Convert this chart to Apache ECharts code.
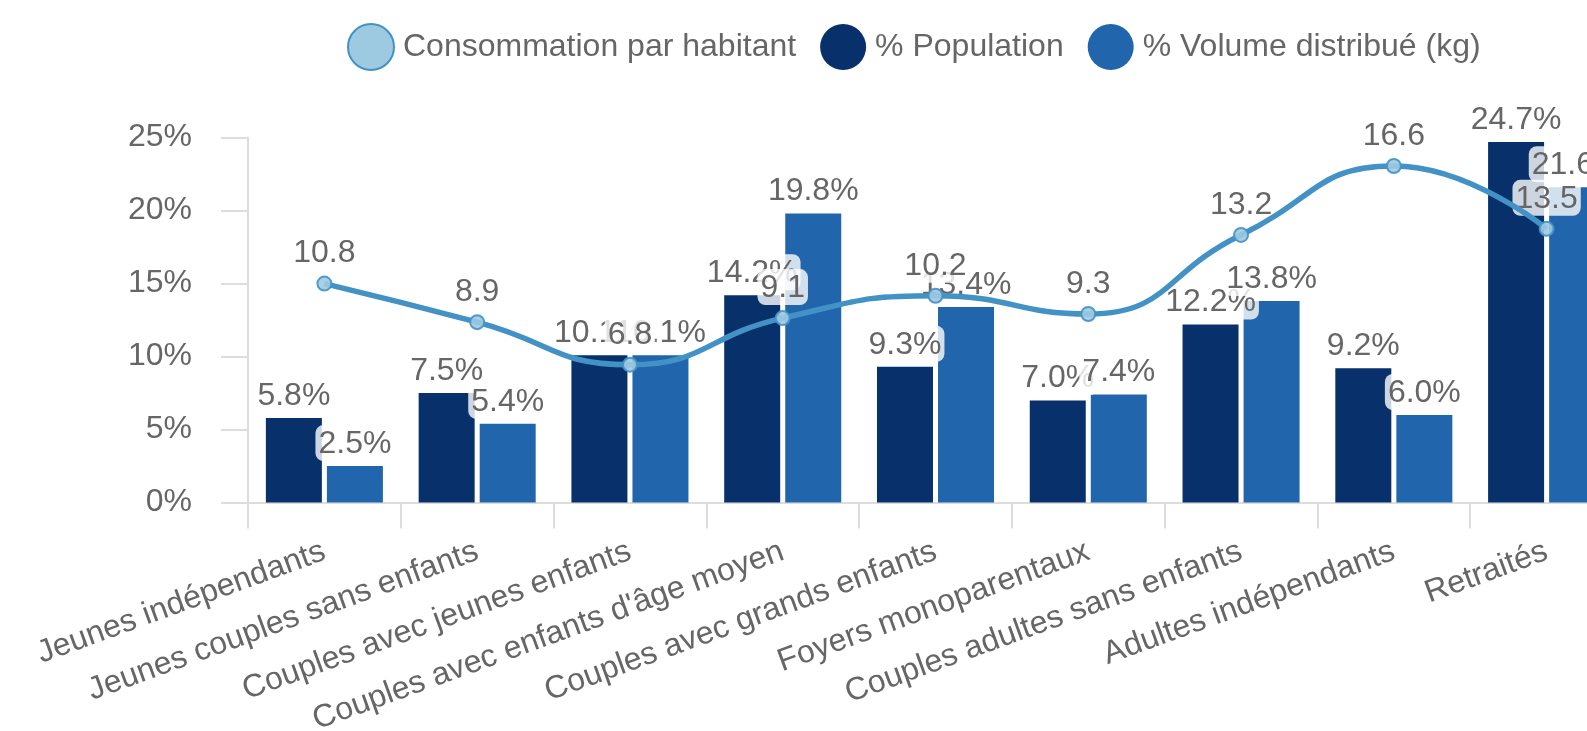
<!DOCTYPE html>
<html>
<head>
<meta charset="utf-8">
<script src="https://cdn.jsdelivr.net/npm/echarts@6/dist/echarts.min.js"></script>
<style>
  html, body { margin: 0; padding: 0; background: #ffffff; }
  /* The plot runs past the right edge of the frame, which clips it */
  #frame { position: relative; width: 1587px; height: 731px; overflow: hidden; }
  #chart { position: absolute; left: 0; top: 0; width: 1700px; height: 731px; }
</style>
</head>
<body>
<div id="frame"><div id="chart"></div></div>
<script>
// Household segments
const categories = [
  'Jeunes indépendants',
  'Jeunes couples sans enfants',
  'Couples avec jeunes enfants',
  "Couples avec enfants d'âge moyen",
  'Couples avec grands enfants',
  'Foyers monoparentaux',
  'Couples adultes sans enfants',
  'Adultes indépendants',
  'Retraités'
];

// Share of population (%)
const populationShare = [5.8, 7.5, 10.1, 14.2, 9.3, 7.0, 12.2, 9.2, 24.7];
// Share of distributed volume (%)
const volumeShare = [2.5, 5.4, 10.1, 19.8, 13.4, 7.4, 13.8, 6.0, 21.6];
// Consumption per inhabitant (kg)
const consumptionPerCapita = [10.8, 8.9, 6.8, 9.1, 10.2, 9.3, 13.2, 16.6, 13.5];

const yTicks = [0, 5, 10, 15, 20, 25];

const FONT = "'Liberation Sans', Arial, Helvetica, sans-serif";
const TEXT = '#666666';
const NAVY = '#08306b';
const BLUE = '#2166ac';
const LINE = '#4292c6';
const LINE_FILL = '#9ecae1';

const labelBox = {
  show: true,
  position: 'top',
  distance: 5,
  color: TEXT,
  fontFamily: FONT,
  fontSize: 32,
  backgroundColor: 'rgba(255,255,255,0.8)',
  borderRadius: 8,
  padding: [3, 3, 1, 3]
};

const chart = echarts.init(document.getElementById('chart'), null, { renderer: 'canvas', width: 1700, height: 731 });

chart.setOption({
  animation: false,
  textStyle: { fontFamily: FONT },
  legend: {
    left: 342,
    top: 18,
    icon: 'circle',
    itemWidth: 46,
    itemHeight: 46,
    itemGap: 24,
    textStyle: { color: TEXT, fontSize: 32, fontFamily: FONT, padding: [0, 0, 0, 4] },
    data: [
      { name: 'Consommation par habitant', itemStyle: { color: LINE_FILL, borderColor: LINE, borderWidth: 2 } },
      { name: '% Population', itemStyle: { color: NAVY } },
      { name: '% Volume distribué (kg)', itemStyle: { color: BLUE } }
    ]
  },
  grid: {
    left: 248,
    top: 137.6,
    width: 1375,
    height: 365,
    containLabel: false,
    outerBoundsMode: 'none'
  },
  xAxis: {
    type: 'category',
    data: categories,
    boundaryGap: true,
    axisLine: { lineStyle: { color: '#dddddd', width: 2 } },
    axisTick: { show: true, length: 26, lineStyle: { color: '#dddddd', width: 2 } },
    axisLabel: {
      interval: 0,
      rotate: 20,
      margin: 48,
      color: TEXT,
      fontSize: 32,
      fontFamily: FONT
    }
  },
  yAxis: [
    {
      type: 'value',
      min: yTicks[0],
      max: yTicks[yTicks.length - 1],
      interval: 5,
      axisLine: { show: true, lineStyle: { color: '#dddddd', width: 2 } },
      axisTick: { show: true, length: 27, lineStyle: { color: '#dddddd', width: 2 } },
      splitLine: { show: false },
      axisLabel: {
        margin: 56,
        color: TEXT,
        fontSize: 32,
        fontFamily: FONT,
        formatter: v => v + '%'
      }
    },
    {
      type: 'value',
      min: 0,
      max: 18,
      show: false,
      splitLine: { show: false }
    }
  ],
  series: [
    {
      // value labels of the consumption curve, kept under the bar labels
      name: 'Consommation par habitant',
      type: 'line',
      yAxisIndex: 1,
      smooth: true,
      z: 2,
      data: consumptionPerCapita,
      symbol: 'circle',
      symbolSize: 14,
      itemStyle: { color: 'rgba(0,0,0,0)', borderWidth: 0 },
      lineStyle: { width: 0, opacity: 0 },
      label: Object.assign({}, labelBox, {
        distance: 6,
        formatter: p => p.value.toFixed(1)
      }),
      tooltip: { show: false }
    },
    {
      name: 'Consommation par habitant',
      type: 'line',
      yAxisIndex: 1,
      smooth: true,
      z: 3,
      data: consumptionPerCapita,
      symbol: 'circle',
      symbolSize: 14,
      itemStyle: { color: LINE_FILL, borderColor: LINE, borderWidth: 2, opacity: 0.9 },
      lineStyle: { color: LINE, width: 5.5 },
      label: { show: false }
    },
    {
      name: '% Population',
      type: 'bar',
      z: 2,
      data: populationShare,
      barWidth: 56,
      barGap: '9%',
      itemStyle: { color: NAVY },
      label: Object.assign({}, labelBox, {
        formatter: p => p.value.toFixed(1) + '%'
      })
    },
    {
      name: '% Volume distribué (kg)',
      type: 'bar',
      z: 2,
      data: volumeShare,
      barWidth: 56,
      barGap: '9%',
      itemStyle: { color: BLUE },
      label: Object.assign({}, labelBox, {
        formatter: p => p.value.toFixed(1) + '%'
      })
    }
  ]
});
</script>
</body>
</html>
